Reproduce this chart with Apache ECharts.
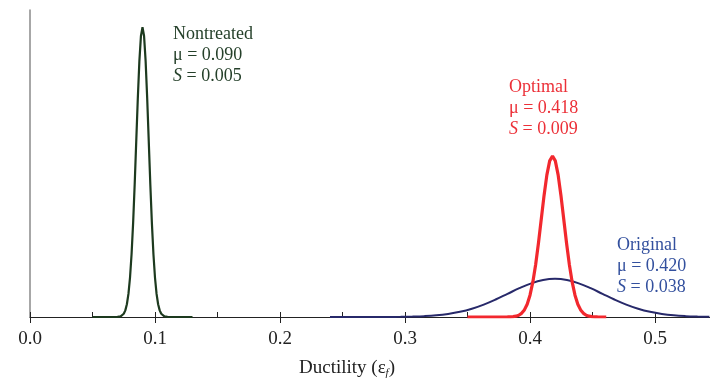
<!DOCTYPE html>
<html>
<head>
<meta charset="utf-8">
<script src="https://cdn.jsdelivr.net/npm/echarts@6/dist/echarts.min.js"></script>
<style>html,body{margin:0;padding:0;background:#fff;}#c{width:710px;height:380px;}</style>
</head>
<body>
<div id="c"></div>
<script>
const xTickLabels = ['0.0', '0.1', '0.2', '0.3', '0.4', '0.5'];

const nontreatedX = [0.05, 0.07, 0.07125, 0.0725, 0.07375, 0.075, 0.07625, 0.0775, 0.07875, 0.08, 0.08125, 0.0825, 0.08375, 0.085, 0.08625, 0.0875, 0.08875, 0.09, 0.09125, 0.0925, 0.09375, 0.095, 0.09625, 0.0975, 0.09875, 0.1, 0.10125, 0.1025, 0.10375, 0.105, 0.10625, 0.1075, 0.10875, 0.11, 0.13];
const nontreatedY = [0, 0.03, 0.07, 0.17, 0.41, 0.89, 1.82, 3.51, 6.35, 10.80, 17.26, 25.90, 36.53, 48.40, 60.23, 70.42, 77.33, 79.79, 77.33, 70.42, 60.23, 48.40, 36.53, 25.90, 17.26, 10.80, 6.35, 3.51, 1.82, 0.89, 0.41, 0.17, 0.07, 0.03, 0];

const optimalX = [0.35, 0.382, 0.38425, 0.3865, 0.38875, 0.391, 0.39325, 0.3955, 0.39775, 0.4, 0.40225, 0.4045, 0.40675, 0.409, 0.41125, 0.4135, 0.41575, 0.418, 0.42025, 0.4225, 0.42475, 0.427, 0.42925, 0.4315, 0.43375, 0.436, 0.43825, 0.4405, 0.44275, 0.445, 0.44725, 0.4495, 0.45175, 0.454, 0.461];
const optimalY = [0, 0.01, 0.04, 0.10, 0.23, 0.49, 1.01, 1.95, 3.53, 6.00, 9.59, 14.39, 20.30, 26.89, 33.46, 39.12, 42.97, 44.33, 42.97, 39.12, 33.46, 26.89, 20.30, 14.39, 9.59, 6.00, 3.53, 1.95, 1.01, 0.49, 0.23, 0.10, 0.04, 0.01, 0];

const originalX = [0.24, 0.268, 0.2775, 0.287, 0.2965, 0.306, 0.3155, 0.325, 0.3345, 0.344, 0.3535, 0.363, 0.3725, 0.382, 0.3915, 0.401, 0.4105, 0.42, 0.4295, 0.439, 0.4485, 0.458, 0.4675, 0.477, 0.4865, 0.496, 0.5055, 0.515, 0.5245, 0.534, 0.5435];
const originalY = [0, 0.00, 0.01, 0.02, 0.05, 0.12, 0.24, 0.46, 0.84, 1.42, 2.27, 3.41, 4.81, 6.37, 7.93, 9.27, 10.18, 10.50, 10.18, 9.27, 7.93, 6.37, 4.81, 3.41, 2.27, 1.42, 0.84, 0.46, 0.24, 0.12, 0.05];

const zip = (xs, ys) => xs.map((x, i) => [x, ys[i]]);
const serif = "'Liberation Serif', 'Times New Roman', serif";

function labelRich(color) {
  return {
    n: { fontFamily: serif, fontSize: 18, fill: color, lineHeight: 21 },
    i: { fontFamily: serif, fontSize: 18, fontStyle: 'italic', fill: color, lineHeight: 21 }
  };
}

const chart = echarts.init(document.getElementById('c'), null, { renderer: 'canvas' });
const option = {
  animation: false,
  backgroundColor: '#ffffff',
  grid: { left: 30, right: 0, top: 10, bottom: 63, containLabel: false },
  xAxis: [
    {
      type: 'value', min: 0, max: 0.544, interval: 0.1,
      axisLine: { show: true, lineStyle: { color: '#222', width: 1 } },
      axisTick: { show: true, inside: false, length: 6, lineStyle: { color: '#222', width: 1 } },
      axisLabel: {
        show: true, margin: 13, fontFamily: serif, fontSize: 19, color: '#222',
        formatter: v => { const i = Math.round(v * 10); return (Math.abs(v * 10 - i) < 1e-6 && xTickLabels[i]) ? xTickLabels[i] : ''; },
        showMaxLabel: false
      },
      splitLine: { show: false }
    },
    {
      type: 'value', min: 0, max: 0.544, interval: 0.05, position: 'bottom',
      axisLine: { show: false },
      axisTick: { show: true, inside: true, length: 5, lineStyle: { color: '#222', width: 1 } },
      axisLabel: { show: false },
      splitLine: { show: false }
    }
  ],
  yAxis: {
    type: 'value', min: 0, max: 84.5,
    axisLine: { show: true, lineStyle: { color: '#8a8a8a', width: 1.5 } },
    axisTick: { show: false },
    axisLabel: { show: false },
    splitLine: { show: false }
  },
  series: [
    {
      name: 'Original', type: 'line', data: zip(originalX, originalY), showSymbol: false, smooth: 0.4,
      lineStyle: { color: '#27296a', width: 2 }, z: 2
    },
    {
      name: 'Nontreated', type: 'line', data: zip(nontreatedX, nontreatedY), showSymbol: false,
      lineStyle: { color: '#1d3a1f', width: 2.2 }, z: 3
    },
    {
      name: 'Optimal', type: 'line', data: zip(optimalX, optimalY), showSymbol: false,
      lineStyle: { color: '#f2282e', width: 3.2 }, z: 4
    }
  ],
  graphic: [
    {
      type: 'text', left: 173, top: 25,
      style: { text: '{n|Nontreated}\n{n|μ = 0.090}\n{i|S}{n| = 0.005}', rich: labelRich('#25402a') }
    },
    {
      type: 'text', left: 509, top: 78,
      style: { text: '{n|Optimal}\n{n|μ = 0.418}\n{i|S}{n| = 0.009}', rich: labelRich('#ec3038') }
    },
    {
      type: 'text', left: 617, top: 236,
      style: { text: '{n|Original}\n{n|μ = 0.420}\n{i|S}{n| = 0.038}', rich: labelRich('#33509e') }
    },
    {
      type: 'text', left: 299, top: 359,
      style: {
        text: '{n|Ductility (ε}{s|f}{n|)}',
        rich: {
          n: { fontFamily: serif, fontSize: 19, fill: '#222' },
          s: { fontFamily: serif, fontSize: 11, fontStyle: 'italic', fill: '#222', verticalAlign: 'bottom', padding: [9, 0, 0, 0] }
        }
      }
    }
  ]
};
chart.setOption(option);
</script>
</body>
</html>
